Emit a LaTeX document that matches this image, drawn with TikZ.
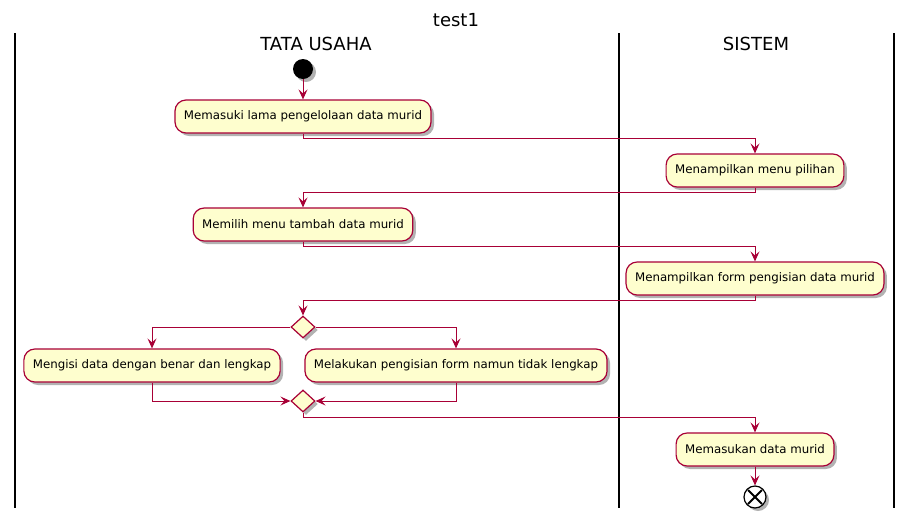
\documentclass[tikz,border=0pt]{standalone}
\usepackage{fontspec}
\setmainfont{DejaVu Sans}
\usepackage{tikz}
\usetikzlibrary{shapes.geometric,
                arrows.meta,
                shadows
                }

\definecolor{umlrot}{HTML}{A80036}
\definecolor{umlgelb}{HTML}{FEFECE}

\tikzset{
    schatten/.style={drop shadow={shadow xshift=3pt, shadow yshift=-3pt,
                     opacity=0.3, fill=black}},
    aktivitaet/.style={draw=umlrot, fill=umlgelb, line width=1.2pt,
                       rounded corners=11pt, minimum height=33pt,
                       inner xsep=9pt, schatten,
                       font=\fontsize{11.8}{14}\selectfont},
    raute/.style={diamond, draw=umlrot, fill=umlgelb, line width=1.2pt,
                  minimum width=24pt, minimum height=22pt, inner sep=0pt,
                  schatten},
    pfeil/.style={draw=umlrot, line width=1pt,
                  -{Stealth[length=10pt, width=9pt, inset=4pt]}},
    bahn/.style={line width=1.8pt, black},
    kopf/.style={font=\fontsize{18}{21}\selectfont}
}

\begin{document}
\begin{tikzpicture}[x=1pt, y=1pt]
    \useasboundingbox (0,0) rectangle (913,-523);

    % Titel und Schwimmbahnen
    \node[kopf] (titel) at (456,-20) {test1};
    \node[kopf] (tata) at (316,-44) {TATA USAHA};
    \node[kopf] (sistem) at (756,-44) {SISTEM};
    \draw[bahn] (15,-33) -- (15,-508);
    \draw[bahn] (619,-33) -- (619,-508);
    \draw[bahn] (894,-33) -- (894,-508);

    % Start und Aktivitaeten
    \node[circle, fill=black, minimum size=20pt, inner sep=0pt, schatten]
        (start) at (303,-69) {};
    \node[aktivitaet] (memasuki) at (303,-116.5)
        {Memasuki lama pengelolaan data murid};
    \node[aktivitaet] (menu) at (755,-170.5) {Menampilkan menu pilihan};
    \node[aktivitaet] (memilih) at (303,-224.5)
        {Memilih menu tambah data murid};
    \node[aktivitaet] (form) at (755,-278.5)
        {Menampilkan form pengisian data murid};

    % Verzweigung
    \node[raute] (verzweig) at (303,-327) {};
    \node[aktivitaet] (benar) at (152,-365.5)
        {Mengisi data dengan benar dan lengkap};
    \node[aktivitaet] (tidak) at (456,-365.5)
        {Melakukan pengisian form namun tidak lengkap};
    \node[raute] (zusammen) at (303,-401) {};

    % Ende
    \node[aktivitaet] (masukan) at (755,-449.5) {Memasukan data murid};
    \node[circle, draw=black, fill=white, line width=1.2pt,
          minimum size=22pt, inner sep=0pt, schatten,
          path picture={
            \draw[line width=1.8pt]
              ([shift={(-7pt,-7pt)}]path picture bounding box.center) --
              ([shift={(7pt,7pt)}]path picture bounding box.center);
            \draw[line width=1.8pt]
              ([shift={(-7pt,7pt)}]path picture bounding box.center) --
              ([shift={(7pt,-7pt)}]path picture bounding box.center);
          }] (ende) at (755,-497) {};

    % Pfeile zwischen den Bahnen
    \draw[pfeil] (start) -- (memasuki);
    \draw[pfeil] (memasuki.south) -- ++(0,-5) -| (menu.north);
    \draw[pfeil] (menu.south) -- ++(0,-5) -| (memilih.north);
    \draw[pfeil] (memilih.south) -- ++(0,-5) -| (form.north);
    \draw[pfeil] (form.south) -- ++(0,-5) -| (verzweig.north);

    % Zweige
    \draw[pfeil] (verzweig.west) -| (benar.north);
    \draw[pfeil] (verzweig.east) -| (tidak.north);
    \draw[pfeil] (benar.south) |- (zusammen.west);
    \draw[pfeil] (tidak.south) |- (zusammen.east);

    % Zum Schluss
    \draw[pfeil] (zusammen.south) -- ++(0,-5) -| (masukan.north);
    \draw[pfeil] (masukan) -- (ende);

\end{tikzpicture}
\end{document}
